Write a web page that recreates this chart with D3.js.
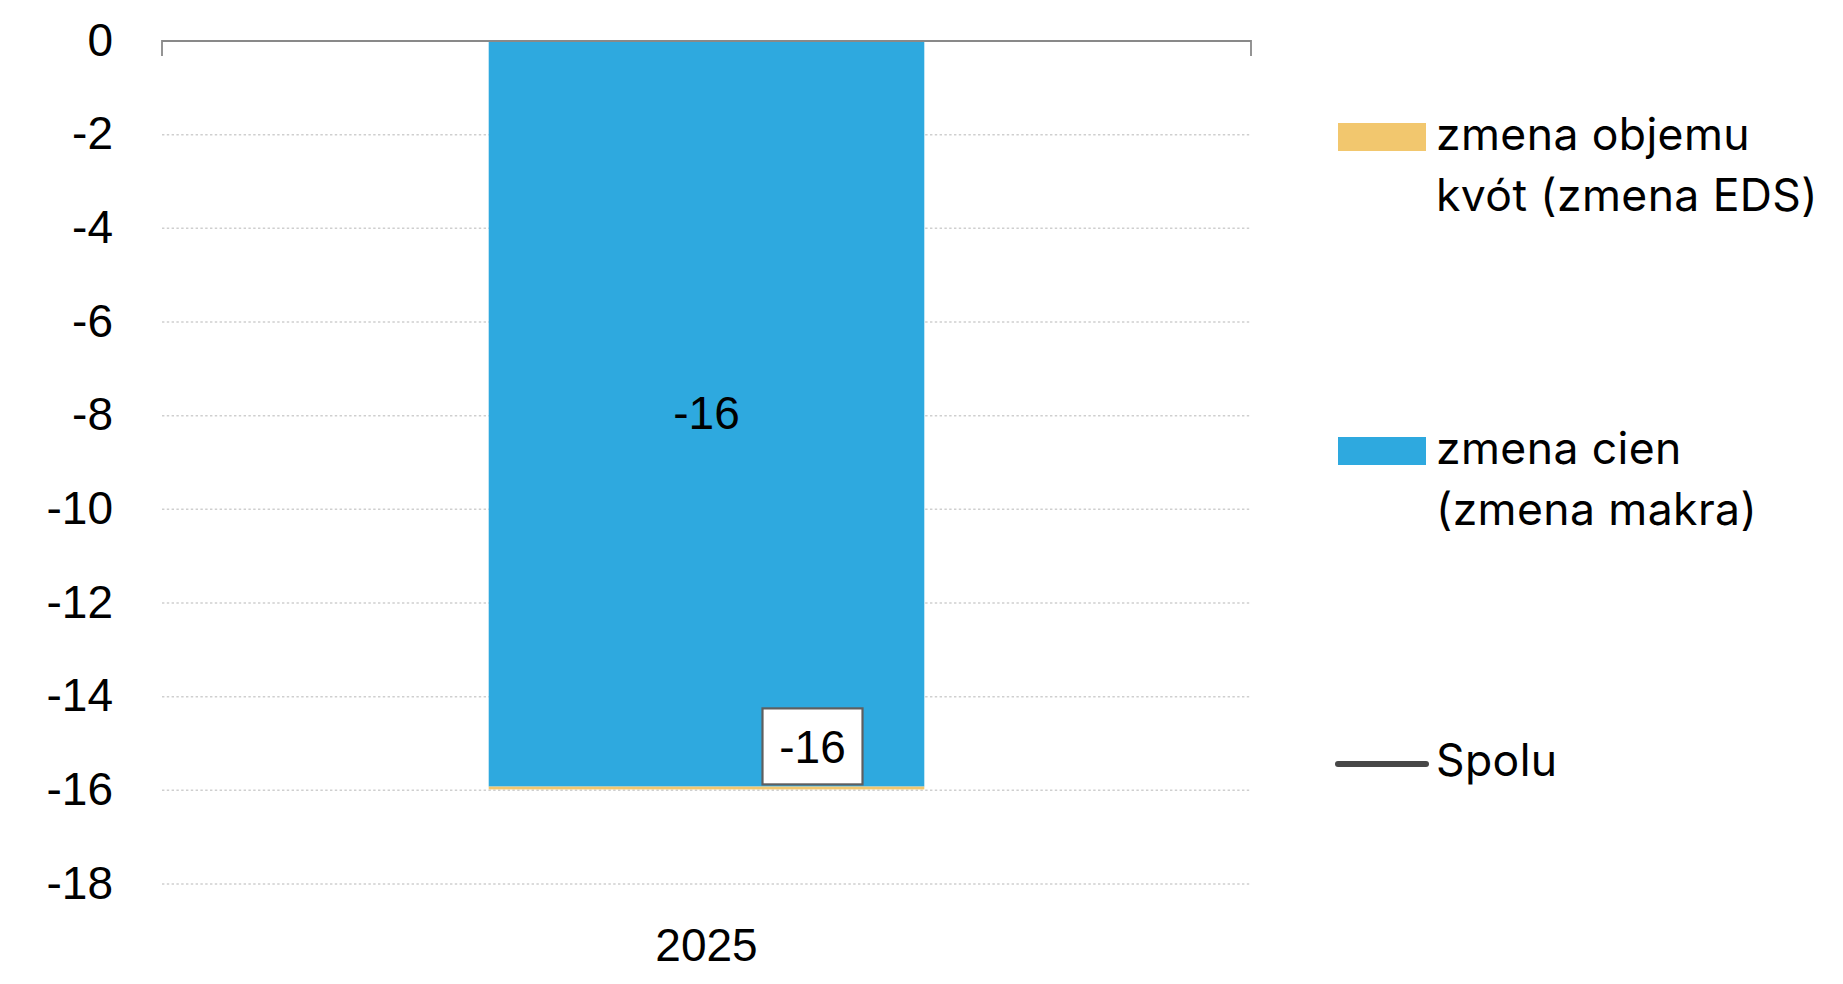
<!DOCTYPE html>
<html>
<head>
<meta charset="utf-8">
<script src="https://cdn.jsdelivr.net/npm/d3@7"></script>
<style>
  html, body { margin: 0; padding: 0; background: #ffffff; }
  svg { display: block; }
</style>
</head>
<body>
<svg id="chart" width="1843" height="984"></svg>
<script>
// ---- data ----
const categories = ["2025"];
const priceChange = [-15.92];   // zmena cien (zmena makra)
const quotaChange = [-0.06];    // zmena objemu kvót (zmena EDS)
const total = [-15.98];         // Spolu
const yTicks = [0, -2, -4, -6, -8, -10, -12, -14, -16, -18];
const legendQuota = ["zmena objemu", "kvót (zmena EDS)"];
const legendPrice = ["zmena cien", "(zmena makra)"];
const legendTotal = ["Spolu"];

// ---- setup ----
const svg = d3.select("#chart");
const plot = { left: 162, right: 1251, top: 41, bottom: 884 };
const axisFont = "'Liberation Sans', Arial, sans-serif";
const axisSize = 46;
const legendFont = "Inter, 'Open Sans', sans-serif";
const colors = { quota: "#F2C76E", price: "#2EA9DF", total: "#474747" };

const locale = d3.formatLocale({ decimal: ".", thousands: " ", grouping: [3], currency: ["", ""], minus: "-" });
const fmt = locale.format(".0f");

const x = d3.scaleBand().domain(categories).range([plot.left, plot.right])
  .paddingInner(0.6).paddingOuter(0.3);
const y = d3.scaleLinear().domain([-18, 0]).range([plot.bottom, plot.top]);

const rows = categories.map((c, i) => ({ cat: c, price: priceChange[i], quota: quotaChange[i], total: total[i] }));
const stack = d3.stack().keys(["price", "quota"]).offset(d3.stackOffsetDiverging);
const stacked = stack(rows);

// gridlines
svg.append("g").selectAll("line")
  .data(yTicks.filter(t => t !== 0))
  .join("line")
  .attr("x1", plot.left).attr("x2", plot.right)
  .attr("y1", d => y(d)).attr("y2", d => y(d))
  .attr("stroke", "#CFCFCF").attr("stroke-width", 1.5)
  .attr("stroke-dasharray", "2.4,2.4");

// y tick labels
const yAxis = d3.axisLeft(y).tickValues(yTicks).tickSize(0).tickPadding(0).tickFormat(fmt);
const yg = svg.append("g").attr("transform", `translate(113,0)`).call(yAxis);
yg.select(".domain").remove();
yg.selectAll("text")
  .attr("font-family", axisFont).attr("font-size", axisSize).attr("fill", "#000")
  .attr("dy", null).attr("y", 0)
  .attr("dominant-baseline", "alphabetic")
  .attr("transform", "translate(0,14)");

// bars
const colorOf = { price: colors.price, quota: colors.quota };
svg.append("g").selectAll("g")
  .data(stacked)
  .join("g")
  .attr("fill", d => colorOf[d.key])
  .selectAll("rect")
  .data(d => d)
  .join("rect")
  .attr("x", d => x(d.data.cat))
  .attr("width", x.bandwidth())
  .attr("y", d => y(Math.max(d[0], d[1])))
  .attr("height", d => Math.abs(y(d[0]) - y(d[1])));

// category axis along zero (top)
const xAxis = d3.axisTop(x).tickSize(0).tickFormat("");
const xg = svg.append("g").attr("transform", `translate(0,${y(0)})`).call(xAxis);
xg.select(".domain").remove();
xg.append("path")
  .attr("d", `M${plot.left},15V0H${plot.right}V15`)
  .attr("fill", "none").attr("stroke", "#898989").attr("stroke-width", 1.8);

// category labels (below plot)
svg.append("g").selectAll("text")
  .data(categories)
  .join("text")
  .attr("x", d => x(d) + x.bandwidth() / 2)
  .attr("y", 961)
  .attr("text-anchor", "middle")
  .attr("font-family", axisFont).attr("font-size", axisSize).attr("fill", "#000")
  .text(d => d);

// value label inside price bar
svg.append("g").selectAll("text")
  .data(rows)
  .join("text")
  .attr("x", d => x(d.cat) + x.bandwidth() / 2)
  .attr("y", d => (y(0) + y(d.price)) / 2 + 15)
  .attr("text-anchor", "middle")
  .attr("font-family", axisFont).attr("font-size", axisSize).attr("fill", "#000")
  .text(d => fmt(d.price));

// total line (single point, no marker) + boxed label
const line = d3.line().x(d => x(d.cat) + x.bandwidth() / 2).y(d => y(d.total));
svg.append("path").datum(rows).attr("d", line)
  .attr("fill", "none").attr("stroke", colors.total).attr("stroke-width", 4);

const tl = svg.append("g").selectAll("g").data(rows).join("g")
  .attr("transform", d => `translate(${x(d.cat) + x.bandwidth() / 2 + 106},${y(d.total) - 43})`);
tl.append("rect")
  .attr("x", -50).attr("y", -38).attr("width", 100).attr("height", 76)
  .attr("fill", "#fff").attr("stroke", "#5F5F5F").attr("stroke-width", 2.2);
tl.append("text")
  .attr("x", 0).attr("y", 17)
  .attr("text-anchor", "middle")
  .attr("font-family", axisFont).attr("font-size", axisSize).attr("fill", "#000")
  .text(d => fmt(d.total));

// legend
const legend = svg.append("g");
const legendItems = [
  { lines: legendQuota, type: "rect", color: colors.quota, base: 150 },
  { lines: legendPrice, type: "rect", color: colors.price, base: 464 },
  { lines: legendTotal, type: "line", color: colors.total, base: 776 }
];
const li = legend.selectAll("g").data(legendItems).join("g");
li.filter(d => d.type === "rect").append("rect")
  .attr("x", 1338).attr("width", 88)
  .attr("y", d => d.base - 27).attr("height", 28)
  .attr("fill", d => d.color);
li.filter(d => d.type === "line").append("line")
  .attr("x1", 1338).attr("x2", 1426)
  .attr("y1", d => d.base - 12).attr("y2", d => d.base - 12)
  .attr("stroke", d => d.color).attr("stroke-width", 6).attr("stroke-linecap", "round");
li.append("text")
  .attr("font-family", legendFont).attr("font-size", 44.5).attr("fill", "#000")
  .attr("letter-spacing", 0.4)
  .selectAll("tspan")
  .data(d => d.lines.map((t, i) => ({ t, y: d.base + i * 61 })))
  .join("tspan")
  .attr("x", 1436).attr("y", d => d.y)
  .text(d => d.t);
</script>
</body>
</html>
